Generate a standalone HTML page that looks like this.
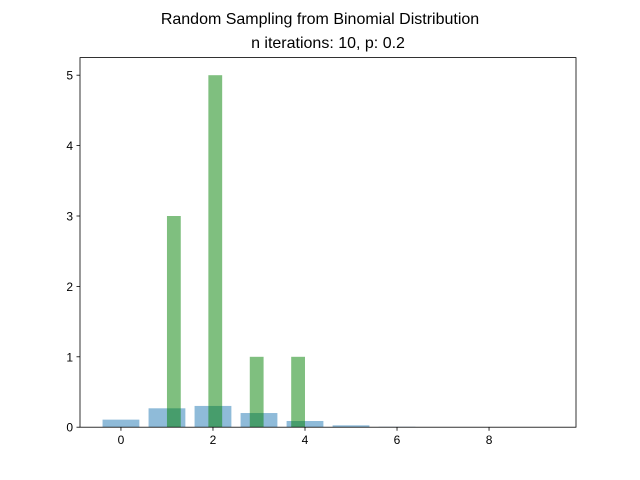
<!DOCTYPE html>
<html><head><meta charset="utf-8">
<style>
body{margin:0;background:#fff;}
svg{display:block;font-family:"Liberation Sans","DejaVu Sans",sans-serif;}
</style></head>
<body>
<svg id="chart" width="640" height="480" viewBox="0 0 640 480">
<rect width="640" height="480" fill="#fff"/>
<text x="320" y="24" text-anchor="middle" font-size="16">Random Sampling from Binomial Distribution</text>
<text x="328" y="48" text-anchor="middle" font-size="16">n iterations: 10, p: 0.2</text>
<g id="bars"></g>
<rect x="80" y="57.6" width="496" height="369.6" fill="none" stroke="#000" stroke-width="0.8"/>
<g id="axes"></g>
</svg>
<script>
const pmfX = [0,1,2,3,4,5,6,7,8,9];
const pmfY = [0.1074,0.2684,0.3020,0.2013,0.0881,0.0264,0.0055,0.0008,0.0001,0.0000];
const samples = [1,1,1,2,2,2,2,2,3,4];
const nBins = 10;
const xTicks = [0,2,4,6,8];
const yTicks = [0,1,2,3,4,5];

const L=80,R=576,T=57.6,B=427.2;
const xmin=-0.89,xmax=9.89,ymin=0,ymax=5.25;
const sx=v=>L+(v-xmin)/(xmax-xmin)*(R-L);
const sy=v=>B-(v-ymin)/(ymax-ymin)*(B-T);
const NS="http://www.w3.org/2000/svg";
const bars=document.getElementById('bars');
const axes=document.getElementById('axes');
function mk(tag,attrs,parent){const e=document.createElementNS(NS,tag);for(const k in attrs)e.setAttribute(k,attrs[k]);parent.appendChild(e);return e;}

pmfX.forEach((x,i)=>{
  const r=mk('rect',{x:sx(x-0.4),y:sy(pmfY[i]),width:sx(x+0.4)-sx(x-0.4),height:sy(0)-sy(pmfY[i]),fill:'#1f77b4','fill-opacity':0.5},bars);
  
  
});
// histogram of samples
const smin=Math.min(...samples), smax=Math.max(...samples);
const bw=(smax-smin)/nBins;
const counts=new Array(nBins).fill(0);
samples.forEach(v=>{let b=Math.floor((v-smin)/bw+1e-9);if(b>=nBins)b=nBins-1;counts[b]++;});
counts.forEach((c,i)=>{
  if(!c)return;
  const x0=smin+i*bw;
  const r=mk('rect',{x:sx(x0),y:sy(c),width:sx(x0+bw)-sx(x0),height:sy(0)-sy(c),fill:'#008000','fill-opacity':0.5},bars);
  
  
});
xTicks.forEach(t=>{
  const l=mk('line',{x1:sx(t),x2:sx(t),y1:B,y2:B+3.5,stroke:'#000','stroke-width':0.8},axes);
  
  
  const tx=mk('text',{x:sx(t),y:B+17,'text-anchor':'middle','font-size':12},axes);
  tx.textContent=t;
  
  
});
yTicks.forEach(t=>{
  const l=mk('line',{x1:L-3.5,x2:L,y1:sy(t),y2:sy(t),stroke:'#000','stroke-width':0.8},axes);
  
  
  const tx=mk('text',{x:L-7,y:sy(t)+4.5,'text-anchor':'end','font-size':12},axes);
  tx.textContent=t;
  
  
});
</script>
</body></html>
